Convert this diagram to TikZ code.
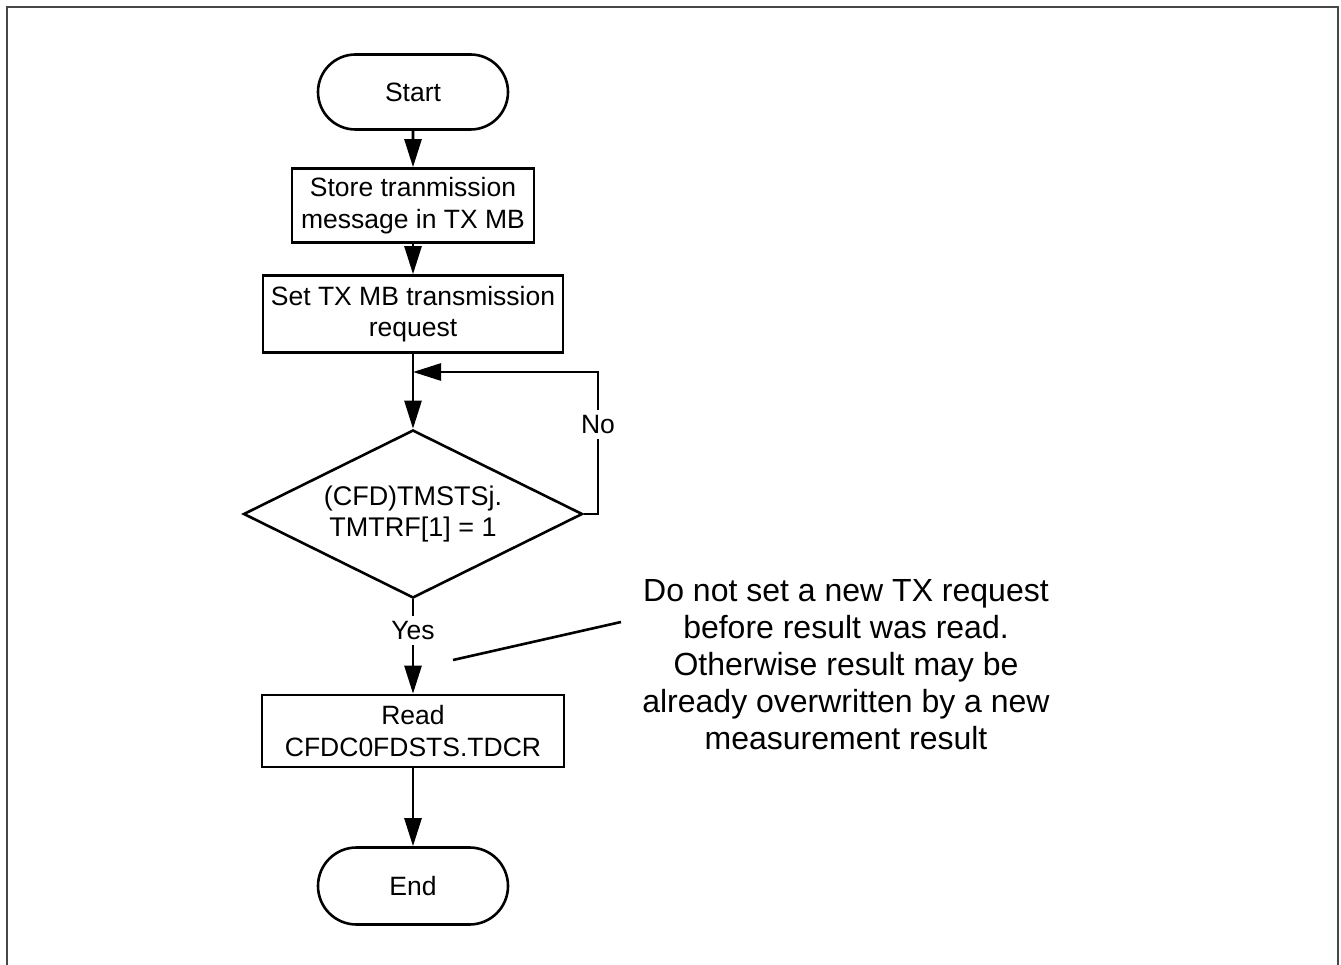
\documentclass[tikz,border=0pt]{standalone}
\usepackage{fontspec}
\setmainfont{Liberation Sans}
\usetikzlibrary{arrows.meta,shapes.geometric,shapes.misc}
\newcommand\flowfont{\fontsize{26.5}{31.5}\selectfont}
\tikzset{
  term/.style={rounded rectangle, draw, line width=2.6pt, minimum width=190pt, minimum height=75pt, inner sep=0, font=\flowfont},
  proc/.style={rectangle, draw, line width=2.6pt, minimum height=74pt, align=center, inner sep=0, font=\flowfont},
  test/.style={diamond, aspect=2, draw, line width=2.6pt, minimum width=339pt, minimum height=168pt, inner sep=0, align=center, font=\fontsize{27}{31}\selectfont},
  flow/.style={line width=2.6pt, -{Triangle[length=28pt, width=17pt]}},
  lbl/.style={fill=white, inner sep=5pt, font=\flowfont},
}
\begin{document}
\begin{tikzpicture}[x=1pt, y=-1pt]
  \useasboundingbox (0,0) rectangle (1341,965);
  % outer frame, open at the bottom
  \draw[line width=2pt, black!72] (7,965) -- (7,7) -- (1338,7) -- (1338,965);
  \node[term] (start) at (413,92) {Start};
  \node[proc, minimum width=242pt] (store) at (413,205.5) {Store tranmission\\message in TX MB};
  \node[proc, minimum width=300pt, minimum height=77pt] (settx) at (413,314) {Set TX MB transmission\\request};
  \node[test] (check) at (413,514) {(CFD)TMSTSj.\\TMTRF[1] = 1};
  \node[proc, minimum width=302pt, minimum height=72pt] (read) at (413,731) {Read\\CFDC0FDSTS.TDCR};
  \node[term, minimum height=77pt] (finish) at (413,886) {End};
  \coordinate (loopin) at (413,372);
  \coordinate (noturn) at (598,372);
  \draw[flow] (start) -- (store);
  \draw[flow] (store) -- (settx);
  \draw[flow] (settx) -- (check);
  \draw[flow] (check.east) -- (check.east -| noturn) -- node[lbl, pos=0.63] {No} (noturn) -- (loopin);
  \draw[flow] (check) -- node[lbl, pos=0.33] {Yes} (read);
  \draw[flow] (read) -- (finish);
  % note on reading the result
  \node[align=center, inner sep=0, font=\fontsize{32}{37}\selectfont] (note) at (846,665) {Do not set a new TX request\\before result was read.\\Otherwise result may be\\already overwritten by a new\\measurement result};
  \coordinate (leadA) at (453,660);
  \coordinate (leadB) at (621,622);
  \draw[line width=2.6pt] (leadA) -- (leadB);
\end{tikzpicture}
\end{document}
